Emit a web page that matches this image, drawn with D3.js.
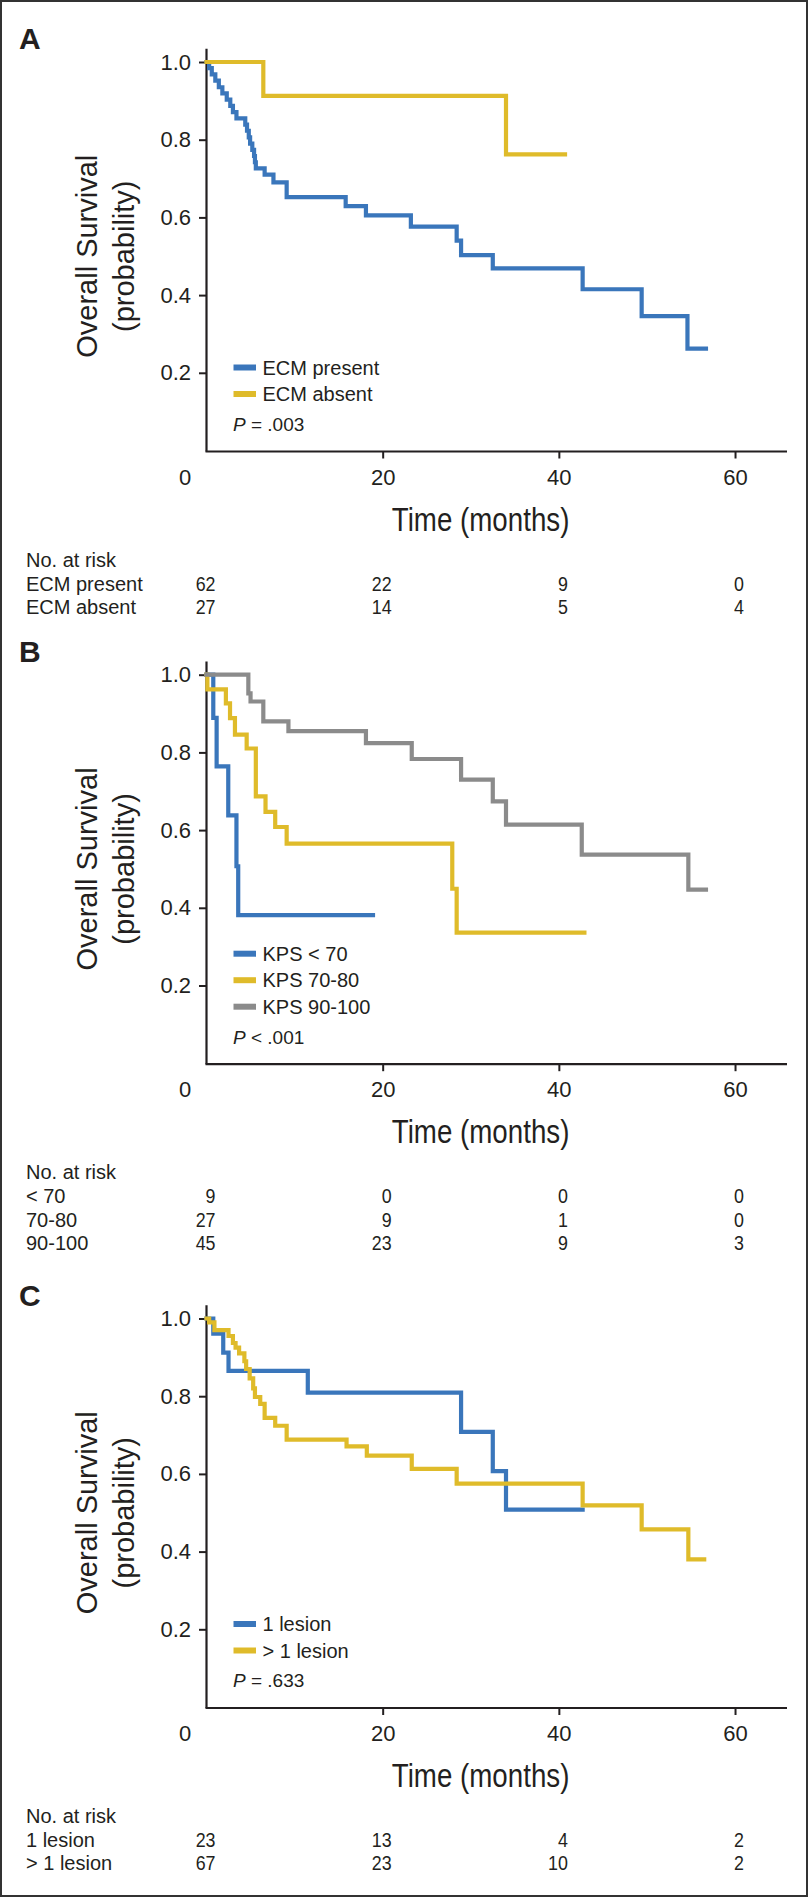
<!DOCTYPE html>
<html><head><meta charset="utf-8">
<script src="https://cdn.jsdelivr.net/npm/d3@7"></script>
<style>
html,body{margin:0;padding:0;background:#fff;}
svg text{font-family:"Liberation Sans",Arial,Helvetica,sans-serif;fill:#231f20;}
</style></head>
<body>
<script>
// ---------- data ----------
const timeTicks = [0, 20, 40, 60];
const survTicks = [0.2, 0.4, 0.6, 0.8, 1.0];

// Panel A: [months, survival] (step after); last point = end of follow-up
const ecmPresent = [[0,1],[0.3,0.984],[0.6,0.968],[1.0,0.952],[1.4,0.935],[1.8,0.919],[2.3,0.903],[2.7,0.887],[3.0,0.871],[3.4,0.855],[4.4,0.839],[4.6,0.823],[4.8,0.806],[4.95,0.79],[5.2,0.774],[5.4,0.758],[5.5,0.742],[5.6,0.726],[6.6,0.71],[7.6,0.69],[9.1,0.652],[15.8,0.629],[18.1,0.605],[23.2,0.576],[28.4,0.540],[28.9,0.503],[32.5,0.469],[42.7,0.415],[49.4,0.346],[54.6,0.262],[56.7,0.262]];
const ecmAbsent = [[0,1],[6.45,0.913],[34.0,0.762],[40.7,0.762]];
const legendA = ["ECM present", "ECM absent"];
const pA = "= .003";
const riskLabelsA = ["ECM present", "ECM absent"];
const riskValuesA = [[62,22,9,0],[27,14,5,4]];

// Panel B
const kpsLow = [[0,1],[0.77,0.889],[1.15,0.764],[2.47,0.638],[3.4,0.507],[3.6,0.381],[18.9,0.381]];
const kpsMid = [[0,1],[0.1,0.962],[2.2,0.926],[2.67,0.888],[3.23,0.846],[4.56,0.81],[5.6,0.687],[6.7,0.647],[7.8,0.608],[9.1,0.565],[27.9,0.449],[28.4,0.336],[42.9,0.336]];
const kpsHigh = [[0,1],[4.75,0.952],[5.0,0.931],[6.45,0.88],[9.3,0.855],[18.1,0.824],[23.3,0.783],[28.9,0.73],[32.5,0.674],[34.0,0.614],[42.6,0.537],[54.7,0.447],[56.7,0.447]];
const legendB = ["KPS < 70", "KPS 70-80", "KPS 90-100"];
const pB = "< .001";
const riskLabelsB = ["< 70", "70-80", "90-100"];
const riskValuesB = [[9,0,0,0],[27,9,1,0],[45,23,9,3]];

// Panel C
const oneLesion = [[0,1],[0.77,0.961],[1.9,0.912],[2.5,0.865],[11.5,0.809],[28.9,0.708],[32.5,0.607],[34.0,0.508],[42.7,0.508]];
const multiLesion = [[0,1],[0.3,0.99],[0.9,0.97],[2.5,0.955],[3.0,0.937],[3.3,0.925],[3.7,0.91],[4.3,0.89],[4.5,0.87],[4.9,0.846],[5.3,0.82],[5.5,0.798],[6.1,0.78],[6.6,0.744],[7.8,0.724],[9.1,0.688],[15.9,0.671],[18.2,0.647],[23.3,0.613],[28.4,0.575],[42.7,0.519],[49.4,0.457],[54.7,0.38],[56.5,0.38]];
const legendC = ["1 lesion", "> 1 lesion"];
const pC = "= .633";
const riskLabelsC = ["1 lesion", "> 1 lesion"];
const riskValuesC = [[23,13,4,2],[67,23,10,2]];

const BLUE = "#3a76bb", YELLOW = "#dfbb2a", GRAY = "#8b8b8b", INK = "#231f20";

// ---------- drawing ----------
const svg = d3.select("body").append("svg").attr("width", 809).attr("height", 1898);
svg.append("rect").attr("x",1).attr("y",1).attr("width",806).attr("height",1895)
   .attr("fill","none").attr("stroke","#333").attr("stroke-width",2);

const panels = [
  {letter:"A", top:62, series:[{d:ecmPresent,c:BLUE},{d:ecmAbsent,c:YELLOW}], colors:[BLUE,YELLOW], legend:legendA, p:pA, rl:riskLabelsA, rv:riskValuesA},
  {letter:"B", top:674.7, series:[{d:kpsLow,c:BLUE},{d:kpsMid,c:YELLOW},{d:kpsHigh,c:GRAY}], colors:[BLUE,YELLOW,GRAY], legend:legendB, p:pB, rl:riskLabelsB, rv:riskValuesB},
  {letter:"C", top:1318.5, series:[{d:oneLesion,c:BLUE},{d:multiLesion,c:YELLOW}], colors:[BLUE,YELLOW], legend:legendC, p:pC, rl:riskLabelsC, rv:riskValuesC}
];

const x = d3.scaleLinear().domain([0, 65.9]).range([206.5, 787]);

panels.forEach(P => {
  const g = svg.append("g");
  const y = d3.scaleLinear().domain([0, 1]).range([P.top + 388.5, P.top]);
  const y0 = y(0);

  g.append("text").attr("x", 19).attr("y", P.top - 13).attr("font-size", 30)
   .attr("font-weight", "bold").text(P.letter);

  // y axis
  const ya = g.append("g").attr("transform", `translate(${x(0)},0)`)
    .call(d3.axisLeft(y).tickValues(survTicks).tickFormat(d3.format(".1f")).tickSize(7.5).tickPadding(8).tickSizeOuter(0));
  ya.select(".domain").remove();
  ya.selectAll("line").attr("stroke", INK).attr("stroke-width", 2);
  ya.selectAll("text").attr("font-size", 22).attr("fill", INK).attr("font-family", "Liberation Sans, Arial, sans-serif");
  g.append("line").attr("x1", x(0)).attr("x2", x(0)).attr("y1", y(1.034)).attr("y2", y0 + 1)
    .attr("stroke", INK).attr("stroke-width", 2.2);

  // x axis
  const xa = g.append("g").attr("transform", `translate(0,${y0 + 1})`)
    .call(d3.axisBottom(x).tickValues(timeTicks).tickFormat(d3.format("d")).tickSize(7).tickSizeOuter(0));
  xa.select(".domain").remove();
  xa.selectAll("line").attr("stroke", INK).attr("stroke-width", 2);
  xa.selectAll(".tick").filter(d => d === 0).select("line").remove();
  xa.selectAll("text").attr("font-size", 22).attr("fill", INK).attr("dy", null).attr("y", 33)
    .attr("font-family", "Liberation Sans, Arial, sans-serif");
  xa.selectAll(".tick").filter(d => d === 0).select("text").attr("x", -22);
  g.append("line").attr("x1", x(0) - 1).attr("x2", x.range()[1]).attr("y1", y0 + 1).attr("y2", y0 + 1)
    .attr("stroke", INK).attr("stroke-width", 2.2);

  // axis titles
  const yc = y(0.5);
  g.append("text").attr("transform", `translate(97,${yc}) rotate(-90)`).attr("text-anchor", "middle")
    .attr("font-size", 29).text("Overall Survival");
  g.append("text").attr("transform", `translate(134,${yc}) rotate(-90)`).attr("text-anchor", "middle")
    .attr("font-size", 29).text("(probability)");
  g.append("text").attr("transform", `translate(480.6,${y0 + 80}) scale(0.84,1)`).attr("text-anchor", "middle")
    .attr("font-size", 33).text("Time (months)");

  // curves
  const line = d3.line().x(d => x(d[0])).y(d => y(d[1])).curve(d3.curveStepAfter);
  P.series.forEach(s => {
    g.append("path").attr("d", line(s.d)).attr("fill", "none").attr("stroke", s.c)
      .attr("stroke-width", 4.2).attr("stroke-linejoin", "miter").attr("stroke-linecap", "square");
  });

  // legend
  const n = P.legend.length;
  P.legend.forEach((lab, i) => {
    const cy = P.top + 332 - 26.5 * (n - 1 - i);
    g.append("line").attr("x1", 233.5).attr("x2", 256).attr("y1", cy).attr("y2", cy)
      .attr("stroke", P.colors[i]).attr("stroke-width", 6);
    g.append("text").attr("x", 262.5).attr("y", cy).attr("dy", "0.36em").attr("font-size", 20).text(lab);
  });
  const pt = g.append("text").attr("x", 233).attr("y", P.top + 362).attr("dy", "0.36em").attr("font-size", 19);
  pt.append("tspan").attr("font-style", "italic").text("P");
  pt.append("tspan").text(" " + P.p);

  // risk table
  const tb = y0 + 1 + 115;
  g.append("text").attr("x", 26).attr("y", tb).attr("font-size", 20).text("No. at risk");
  P.rl.forEach((lab, i) => {
    const ty = tb + 24 + 23.3 * i;
    g.append("text").attr("x", 26).attr("y", ty).attr("font-size", 20).text(lab);
    P.rv[i].forEach((v, j) => {
      g.append("text").attr("transform", `translate(${x(timeTicks[j]) + 9},${ty}) scale(0.85,1)`)
        .attr("text-anchor", "end").attr("font-size", 21).text(v);
    });
  });
});
</script>
</body></html>
